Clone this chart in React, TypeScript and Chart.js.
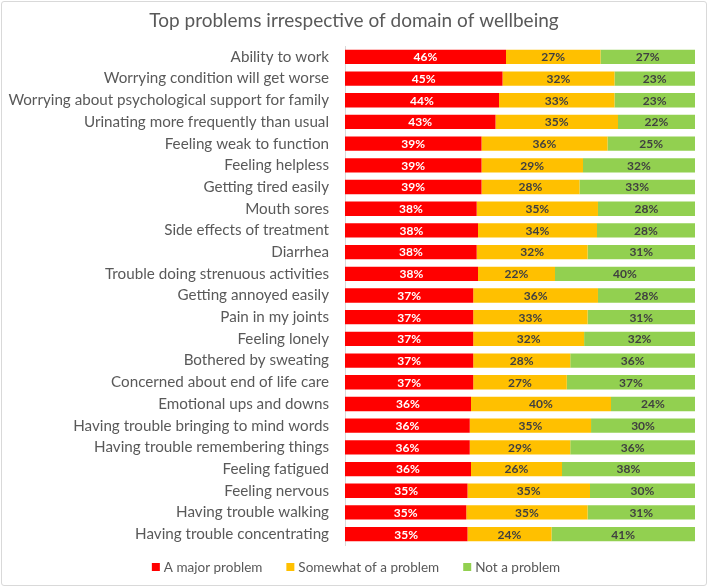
import React, { useEffect, useRef } from "react";
import { Chart, registerables } from "chart.js";

Chart.register(...registerables);

const chartTitle = "Top problems irrespective of domain of wellbeing";

const categories = [
  "Ability to work",
  "Worrying condition will get worse",
  "Worrying about psychological support for family",
  "Urinating more frequently than usual",
  "Feeling weak to function",
  "Feeling helpless",
  "Getting tired easily",
  "Mouth sores",
  "Side effects of treatment",
  "Diarrhea",
  "Trouble doing strenuous activities",
  "Getting annoyed easily",
  "Pain in my joints",
  "Feeling lonely",
  "Bothered by sweating",
  "Concerned about end of life care",
  "Emotional ups and downs",
  "Having trouble bringing to mind words",
  "Having trouble remembering things",
  "Feeling fatigued",
  "Feeling nervous",
  "Having trouble walking",
  "Having trouble concentrating",
];

const majorProblem = [46, 45, 44, 43, 39, 39, 39, 38, 38, 38, 38, 37, 37, 37, 37, 37, 36, 36, 36, 36, 35, 35, 35];
const somewhatProblem = [27, 32, 33, 35, 36, 29, 28, 35, 34, 32, 22, 36, 33, 32, 28, 27, 40, 35, 29, 26, 35, 35, 24];
const notProblem = [27, 23, 23, 22, 25, 32, 33, 28, 28, 31, 40, 28, 31, 32, 36, 37, 24, 30, 36, 38, 30, 31, 41];

const seriesNames = ["A major problem", "Somewhat of a problem", "Not a problem"];
const seriesColors = ["#FF0000", "#FFC000", "#92D050"];
const labelColors = ["#FFFFFF", "#404040", "#404040"];

const FONT = "Lato, 'Open Sans', sans-serif";

export default function App() {
  const ref = useRef<HTMLCanvasElement | null>(null);

  useEffect(() => {
    if (!ref.current) return;
    const raw = [majorProblem, somewhatProblem, notProblem];
    const totals = categories.map((_, i) => raw[0][i] + raw[1][i] + raw[2][i]);

    const valueLabels = {
      id: "valueLabels",
      afterDatasetsDraw(chart: any) {
        const ctx = chart.ctx;
        ctx.save();
        ctx.font = `bold 12px ${FONT}`;
        ctx.textAlign = "center";
        ctx.textBaseline = "middle";
        chart.data.datasets.forEach((ds: any, di: number) => {
          const meta = chart.getDatasetMeta(di);
          meta.data.forEach((bar: any, i: number) => {
            const { x, base, y } = bar.getProps(["x", "base", "y"], true);
            ctx.fillStyle = labelColors[di];
            ctx.fillText(raw[di][i] + "%", (x + base) / 2, y + 0.5);
          });
        });
        ctx.restore();
      },
    };

    const titleAndLegend = {
      id: "titleAndLegend",
      afterDraw(chart: any) {
        const ctx = chart.ctx;
        ctx.save();
        // title
        ctx.font = `19px ${FONT}`;
        ctx.fillStyle = "#595959";
        ctx.textAlign = "center";
        ctx.textBaseline = "middle";
        ctx.fillText(chartTitle, chart.width / 2, 20.5);
        // legend
        ctx.font = `13.5px ${FONT}`;
        ctx.textAlign = "left";
        const box = 8;
        const boxGap = 4;
        const itemGap = 24;
        const widths = seriesNames.map((n) => box + boxGap + ctx.measureText(n).width);
        const total = widths.reduce((a, b) => a + b, 0) + itemGap * (seriesNames.length - 1);
        let x = (chart.width - total) / 2 + 2;
        const y = 567;
        seriesNames.forEach((n, i) => {
          ctx.fillStyle = seriesColors[i];
          ctx.fillRect(x, y - box / 2, box, box);
          ctx.fillStyle = "#595959";
          ctx.fillText(n, x + box + boxGap, y + 0.5);
          x += widths[i] + itemGap;
        });
        ctx.restore();
      },
    };

    const chart = new Chart(ref.current, {
      type: "bar",
      data: {
        labels: categories,
        datasets: raw.map((arr, di) => ({
          label: seriesNames[di],
          data: arr.map((v, i) => (v / totals[i]) * 100),
          backgroundColor: seriesColors[di],
          borderWidth: 0,
          categoryPercentage: 0.66,
          barPercentage: 1,
        })),
      },
      options: {
        indexAxis: "y",
        responsive: false,
        animation: false,
        layout: { padding: { left: 0, right: 13, top: 46, bottom: 42 } },
        scales: {
          x: {
            stacked: true,
            min: 0,
            max: 100,
            display: false,
          },
          y: {
            stacked: true,
            grid: { display: false },
            border: { display: true, color: "#D9D9D9", width: 1 },
            ticks: {
              color: "#595959",
              font: { family: FONT, size: 15.2 },
              padding: 8,
              autoSkip: false,
            },
            afterFit(scale: any) {
              scale.width = 345;
            },
          },
        },
        plugins: {
          title: { display: false },
          legend: { display: false },
          tooltip: { enabled: false },
        },
      },
      plugins: [valueLabels, titleAndLegend],
    });
    return () => chart.destroy();
  }, []);

  return (
    <div
      style={{
        position: "fixed",
        left: 0,
        top: 0,
        width: 708,
        height: 587,
        background: "#fff",
      }}
    >
      <div
        style={{
          position: "absolute",
          left: 1,
          top: 1,
          width: 704,
          height: 583,
          border: "1px solid #D9D9D9",
          borderRadius: 3,
        }}
      />
      <canvas ref={ref} width={708} height={587} style={{ position: "absolute", left: 0, top: 0 }} />
    </div>
  );
}
